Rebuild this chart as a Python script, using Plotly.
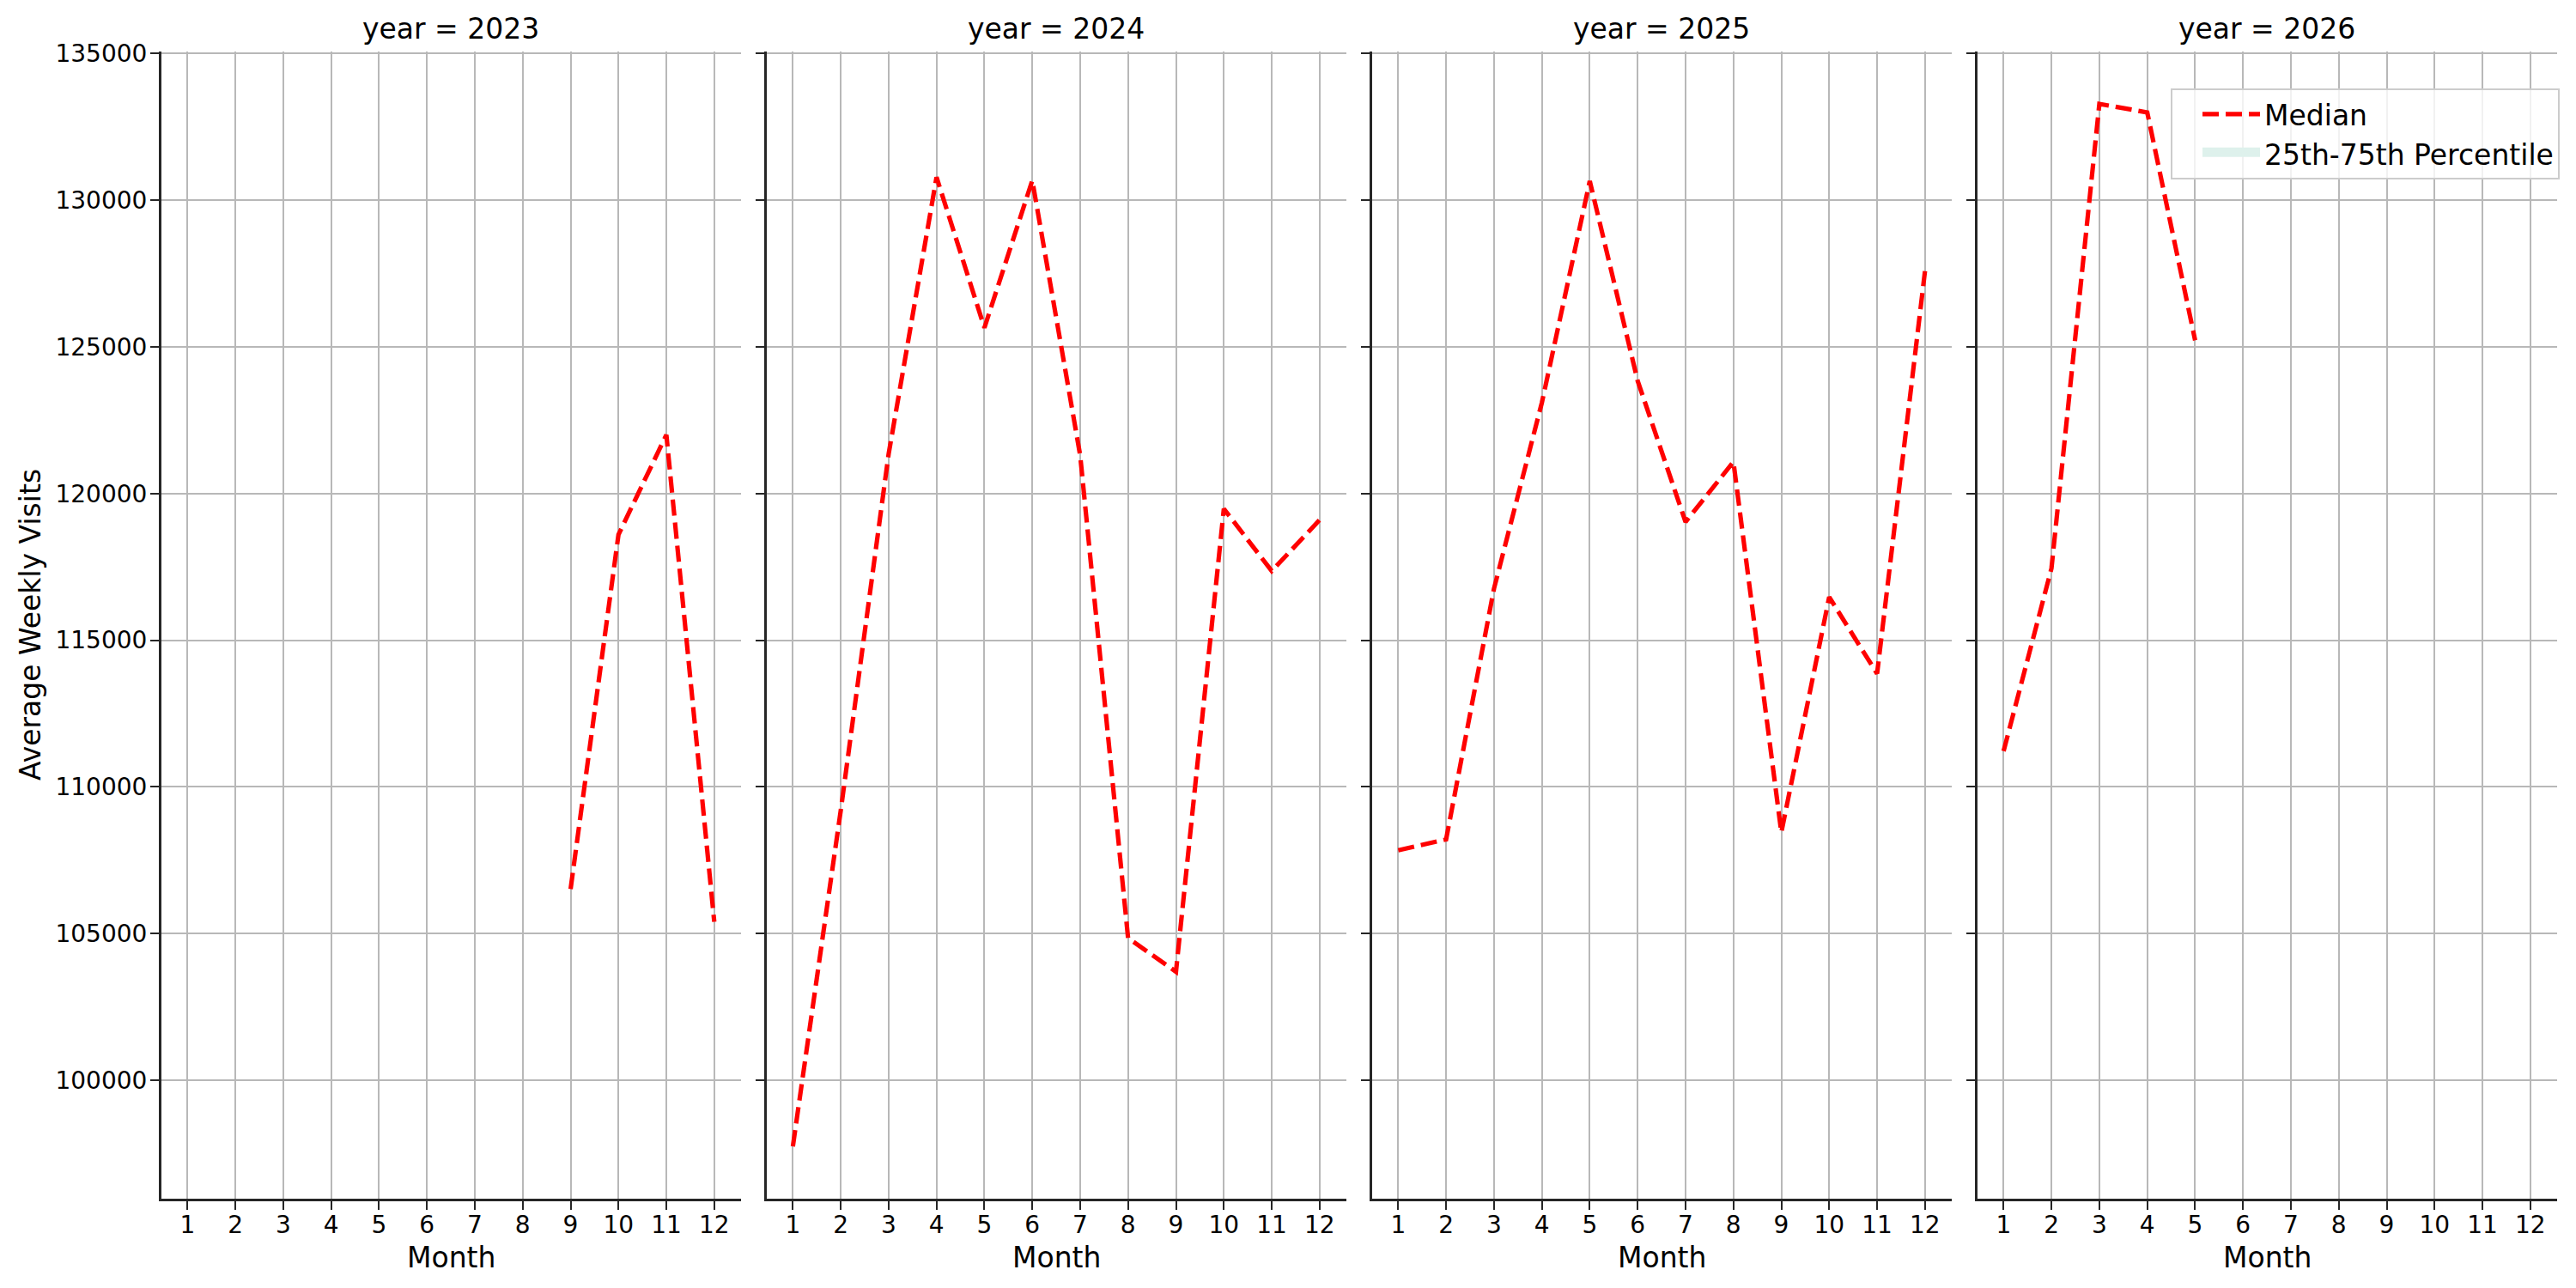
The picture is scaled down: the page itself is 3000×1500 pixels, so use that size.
import plotly.graph_objects as go

# ---- data ----
years = [2023, 2024, 2025, 2026]
month_ticks = list(range(1, 13))

months_2023 = [9, 10, 11, 12]
median_2023 = [106520, 118600, 122000, 105400]

months_2024 = list(range(1, 13))
median_2024 = [97750, 109200, 121350, 130780, 125650, 130670, 121300, 104850, 103700, 119480, 117360, 119100]

months_2025 = list(range(1, 13))
median_2025 = [107840, 108210, 116760, 123100, 130650, 123840, 119030, 121080, 108450, 116470, 113860, 127580]

months_2026 = [1, 2, 3, 4, 5]
median_2026 = [111220, 117450, 133280, 132990, 125220]

series_months = [months_2023, months_2024, months_2025, months_2026]
series_median = [median_2023, median_2024, median_2025, median_2026]

y_ticks = [100000, 105000, 110000, 115000, 120000, 125000, 130000, 135000]

# ---- styling ----
W, H = 3000, 1500
FONT = "DejaVu Sans"
TICK_FS = 28
LABEL_FS = 33
SPINE = "#262626"
GRID = "#b8b8b8"

panel_left0 = 187.7
panel_w = 674.8
panel_step = 705.0
ax_top_px = 60
ax_bot_px = 1396
y_dom = [(H - ax_bot_px) / H, (H - ax_top_px) / H]
y_range = [95965, 135065]
x_range = [0.45, 12.55]

fig = go.Figure()

for i, (yr, mx, my) in enumerate(zip(years, series_months, series_median)):
    sfx = "" if i == 0 else str(i + 1)
    fig.add_trace(go.Scatter(
        x=mx, y=my, mode="lines", name="Median",
        line=dict(color="#ff0000", width=5.2, dash="19px,8px"),
        xaxis="x" + sfx, yaxis="y" + sfx,
        showlegend=(i == 3), legendrank=1,
    ))

# legend-only entry for the percentile band (band not visible in the reference)
fig.add_trace(go.Scatter(
    x=[None], y=[None], mode="lines", name="25th-75th Percentile",
    fill="toself", fillcolor="rgb(222,241,236)",
    line=dict(color="rgb(222,241,236)", width=10),
    xaxis="x4", yaxis="y4", showlegend=True, legendrank=2,
))

layout = dict(
    width=W, height=H,
    margin=dict(l=0, r=0, t=0, b=0, pad=0, autoexpand=False),
    paper_bgcolor="white", plot_bgcolor="white",
    font=dict(family=FONT, color="black", size=TICK_FS),
    showlegend=True,
    legend=dict(
        x=2981 / W, xanchor="right", y=1 - 103 / H, yanchor="top",
        bgcolor="rgba(255,255,255,0.8)", bordercolor="#cccccc", borderwidth=2,
        font=dict(family=FONT, size=LABEL_FS, color="black"),
        itemwidth=67, tracegroupgap=0, indentation=30,
    ),
)

annotations = []
for i, yr in enumerate(years):
    sfx = "" if i == 0 else str(i + 1)
    x0 = (panel_left0 + i * panel_step) / W
    x1 = (panel_left0 + i * panel_step + panel_w) / W
    layout["xaxis" + sfx] = dict(
        domain=[x0, x1], range=x_range, tickmode="array", tickvals=month_ticks,
        ticktext=[str(m) for m in month_ticks],
        showgrid=True, gridcolor=GRID, gridwidth=2,
        showline=True, linecolor=SPINE, linewidth=2.5, mirror=False,
        ticks="outside", ticklen=10, tickwidth=2, tickcolor=SPINE,
        ticklabelstandoff=-6,
        tickfont=dict(family=FONT, size=TICK_FS, color="black"),
        zeroline=False, anchor="y" + sfx, automargin=False,
    )
    layout["yaxis" + sfx] = dict(
        domain=y_dom, range=y_range, tickmode="array", tickvals=y_ticks,
        ticktext=[str(v) for v in y_ticks],
        showticklabels=(i == 0),
        showgrid=True, gridcolor=GRID, gridwidth=2,
        showline=True, linecolor=SPINE, linewidth=2.5, mirror=False,
        ticks="outside", ticklen=10, tickwidth=2, tickcolor=SPINE,
        ticklabelstandoff=-2,
        tickfont=dict(family=FONT, size=TICK_FS, color="black"),
        zeroline=False, anchor="x" + sfx, automargin=False,
    )
    xc = (x0 + x1) / 2
    annotations.append(dict(
        text=f"year = {yr}", x=xc, y=1 - 34 / H, xref="paper", yref="paper",
        xanchor="center", yanchor="middle", showarrow=False,
        font=dict(family=FONT, size=LABEL_FS, color="black"),
    ))
    annotations.append(dict(
        text="Month", x=xc, y=1 - 1464 / H, xref="paper", yref="paper",
        xanchor="center", yanchor="middle", showarrow=False,
        font=dict(family=FONT, size=LABEL_FS, color="black"),
    ))

annotations.append(dict(
    text="Average Weekly Visits", x=35 / W, y=1 - 728 / H, xref="paper", yref="paper",
    xanchor="center", yanchor="middle", textangle=-90, showarrow=False,
    font=dict(family=FONT, size=LABEL_FS, color="black"),
))
layout["annotations"] = annotations

fig.update_layout(**layout)
fig.write_html("out.html")
